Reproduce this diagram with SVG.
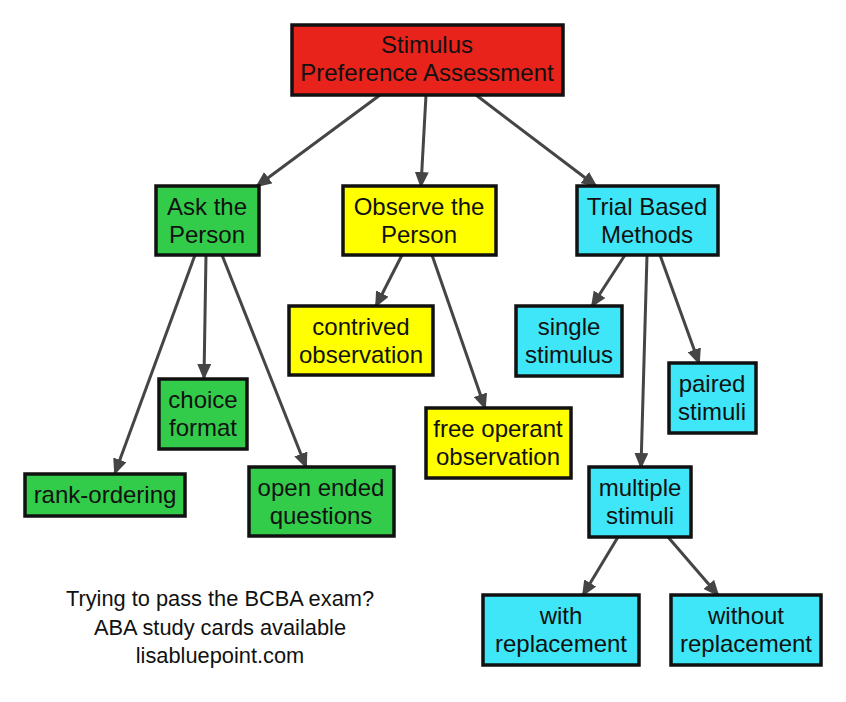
<svg xmlns="http://www.w3.org/2000/svg" width="846" height="702" viewBox="0 0 846 702">
<style>
.box{stroke:#111;stroke-width:3.5}
.red{fill:#e8231b}
.green{fill:#33cc4a}
.yellow{fill:#ffff00}
.cyan{fill:#3fe6f7}
text{font-family:"Liberation Sans",Arial,sans-serif;font-size:24px;fill:#111;text-anchor:middle}
.foot{font-size:21.8px}
.edge{stroke:#454545;stroke-width:3;fill:none;marker-end:url(#arr)}
</style>
<defs>
<marker id="arr" markerUnits="userSpaceOnUse" markerWidth="16" markerHeight="14" refX="14" refY="7" orient="auto">
<path d="M0,0 L16,7 L0,14 Z" fill="#454545"/>
</marker>
</defs>
<rect width="846" height="702" fill="#fff"/>
<g id="connectors">
<line class="edge" x1="380" y1="95" x2="257" y2="186"/>
<line class="edge" x1="426" y1="95" x2="421" y2="186"/>
<line class="edge" x1="476" y1="95" x2="596" y2="186"/>
<line class="edge" x1="195" y1="255" x2="115" y2="473"/>
<line class="edge" x1="206" y1="255" x2="204" y2="378"/>
<line class="edge" x1="222" y1="255" x2="306" y2="467"/>
<line class="edge" x1="402" y1="255" x2="376" y2="306"/>
<line class="edge" x1="432" y1="255" x2="485" y2="408"/>
<line class="edge" x1="625" y1="255" x2="592" y2="306"/>
<line class="edge" x1="647" y1="255" x2="641" y2="467"/>
<line class="edge" x1="660" y1="255" x2="699" y2="363"/>
<line class="edge" x1="618" y1="537" x2="583" y2="595"/>
<line class="edge" x1="668" y1="537" x2="718" y2="595"/>
</g>
<g id="root">
<rect class="box red" x="292" y="25" width="271" height="70"/>
<text x="427" y="53">Stimulus</text>
<text x="427" y="81">Preference Assessment</text>
</g>
<g id="ask">
<rect class="box green" x="156" y="186" width="103" height="69"/>
<text x="207" y="215">Ask the</text>
<text x="207" y="243">Person</text>
</g>
<g id="observe">
<rect class="box yellow" x="343" y="186" width="153" height="69"/>
<text x="419" y="215">Observe the</text>
<text x="419" y="243">Person</text>
</g>
<g id="trial">
<rect class="box cyan" x="577" y="186" width="141" height="69"/>
<text x="647" y="215">Trial Based</text>
<text x="647" y="243">Methods</text>
</g>
<g id="rank">
<rect class="box green" x="25" y="474" width="160" height="42"/>
<text x="105" y="503">rank-ordering</text>
</g>
<g id="choice">
<rect class="box green" x="159" y="379" width="88" height="70"/>
<text x="203" y="408">choice</text>
<text x="203" y="436">format</text>
</g>
<g id="open">
<rect class="box green" x="249" y="467" width="145" height="69"/>
<text x="321" y="496">open ended</text>
<text x="321" y="524">questions</text>
</g>
<g id="contrived">
<rect class="box yellow" x="289" y="306" width="144" height="69"/>
<text x="361" y="335">contrived</text>
<text x="361" y="363">observation</text>
</g>
<g id="free">
<rect class="box yellow" x="426" y="408" width="145" height="70"/>
<text x="498" y="437">free operant</text>
<text x="498" y="465">observation</text>
</g>
<g id="single">
<rect class="box cyan" x="516" y="306" width="106" height="70"/>
<text x="569" y="335">single</text>
<text x="569" y="363">stimulus</text>
</g>
<g id="paired">
<rect class="box cyan" x="669" y="363" width="87" height="70"/>
<text x="712" y="392">paired</text>
<text x="712" y="420">stimuli</text>
</g>
<g id="multiple">
<rect class="box cyan" x="589" y="467" width="102" height="70"/>
<text x="640" y="496">multiple</text>
<text x="640" y="524">stimuli</text>
</g>
<g id="with">
<rect class="box cyan" x="483" y="595" width="156" height="70"/>
<text x="561" y="624">with</text>
<text x="561" y="652">replacement</text>
</g>
<g id="without">
<rect class="box cyan" x="671" y="595" width="150" height="70"/>
<text x="746" y="624">without</text>
<text x="746" y="652">replacement</text>
</g>
<g id="footer">
<text class="foot" x="220" y="606">Trying to pass the BCBA exam?</text>
<text class="foot" x="220" y="635">ABA study cards available</text>
<text class="foot" x="220" y="663">lisabluepoint.com</text>
</g>
</svg>
